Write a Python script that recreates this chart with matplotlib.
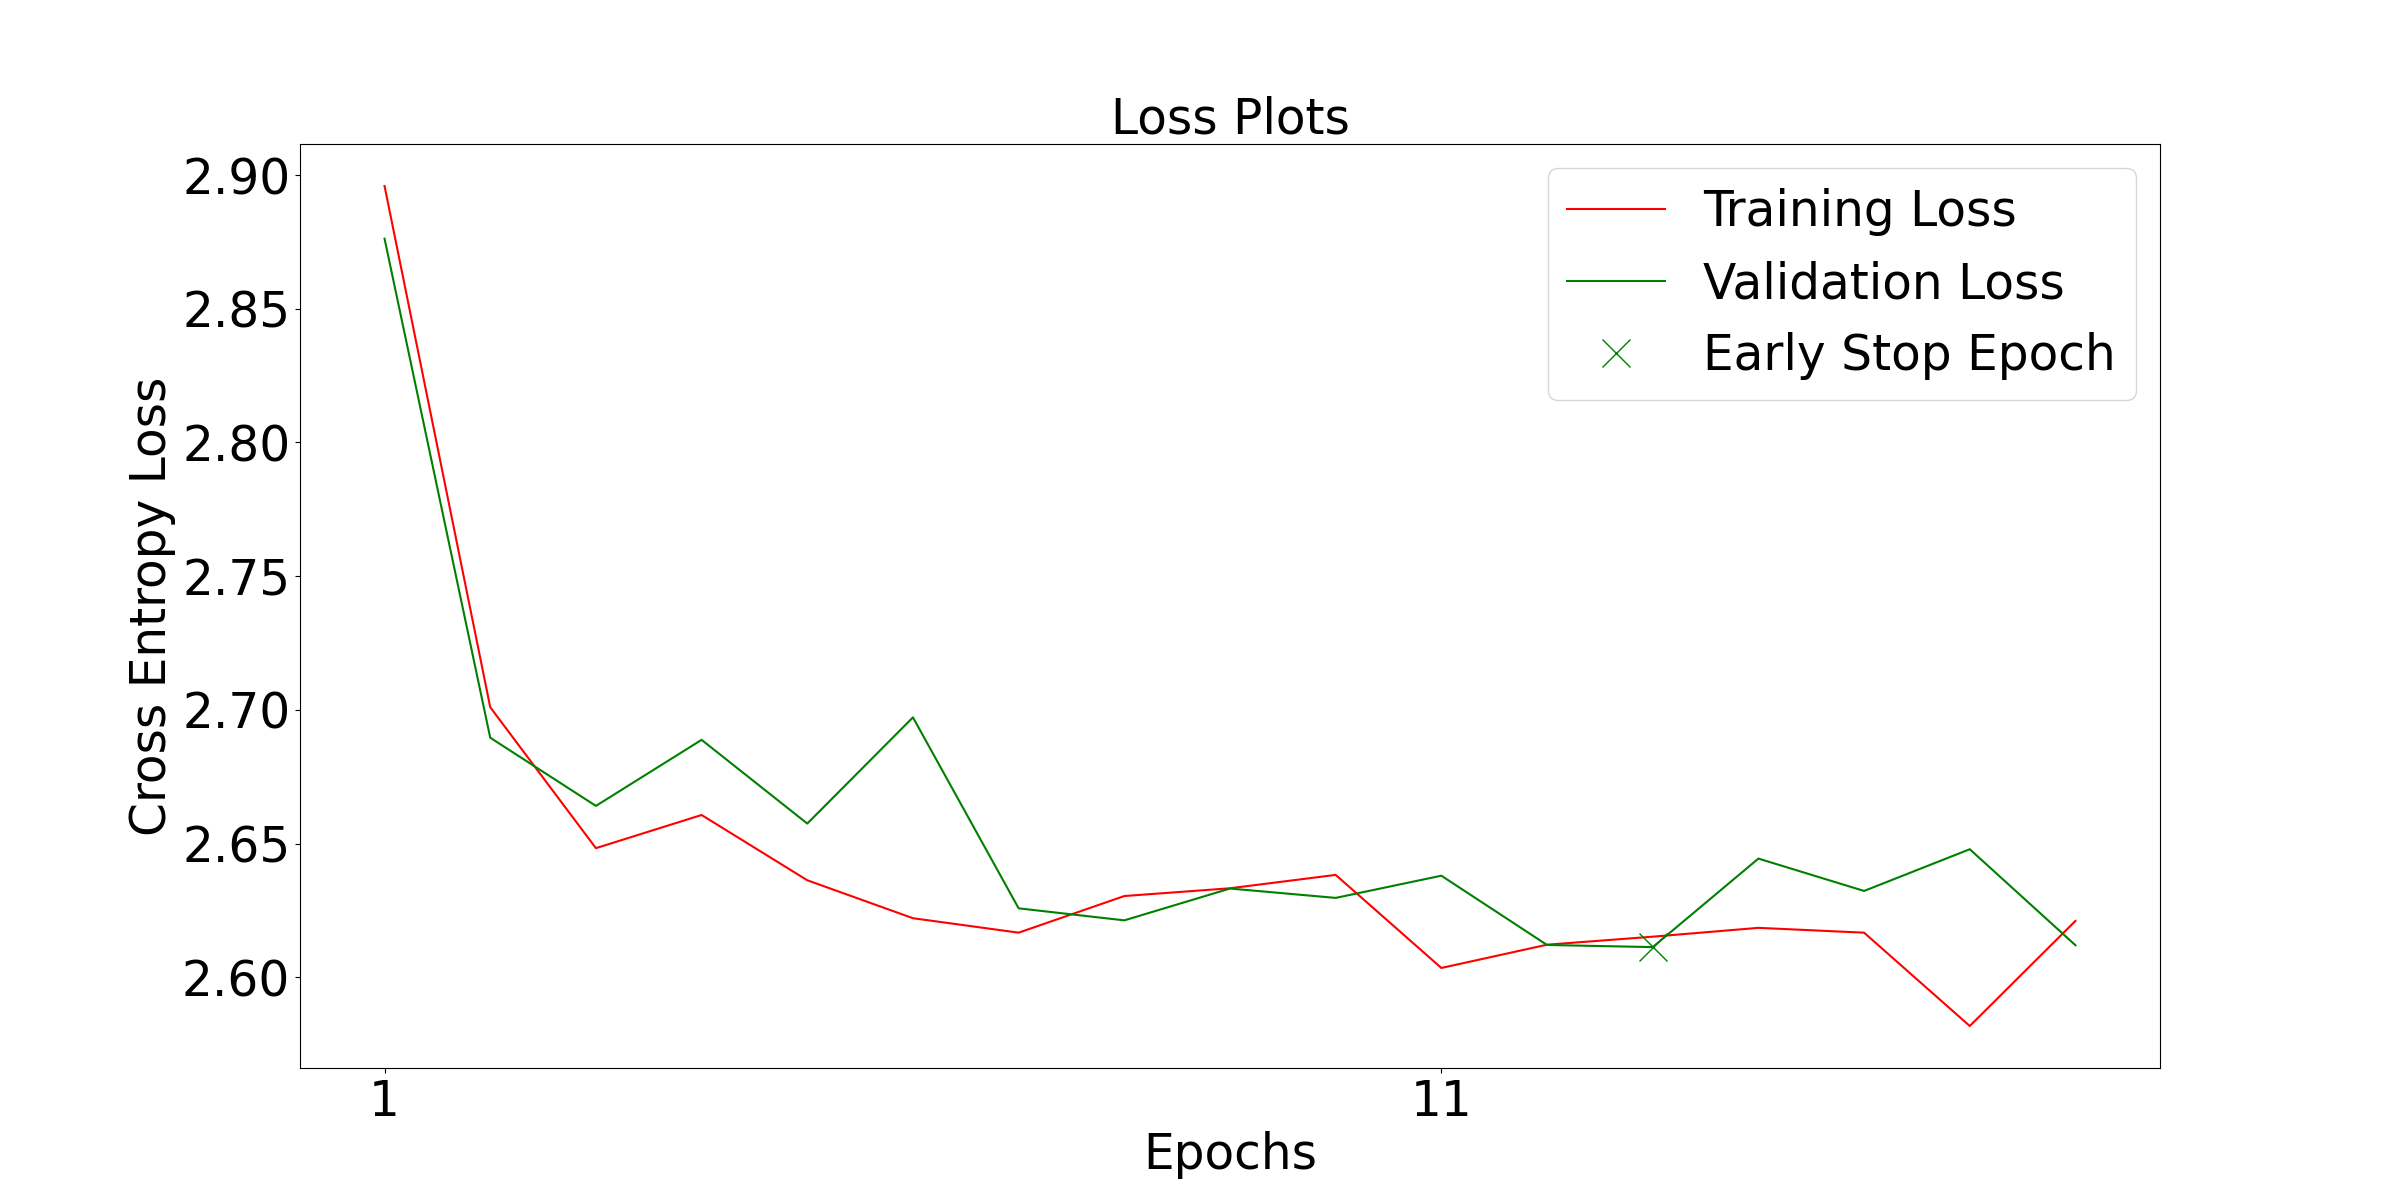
import numpy as np
import matplotlib
matplotlib.use("Agg")
import matplotlib.pyplot as plt

plt.rcParams['font.size'] = 35

epochs = list(range(1, 18))
train_loss = [2.8959, 2.7010, 2.6483, 2.6607, 2.6363, 2.6221, 2.6167, 2.6304, 2.6333,
              2.6383, 2.6035, 2.6122, 2.6152, 2.6185, 2.6167, 2.5818, 2.6211]
val_loss = [2.8762, 2.6896, 2.6641, 2.6888, 2.6575, 2.6972, 2.6258, 2.6213, 2.6332,
            2.6297, 2.6380, 2.6121, 2.6113, 2.6444, 2.6323, 2.6479, 2.6120]
early_stop = 13

plt.figure(figsize=(24, 12), dpi=100)
plt.plot(epochs, train_loss, color='red', label='Training Loss')
plt.plot(epochs, val_loss, color='green', label='Validation Loss')
plt.plot(early_stop, val_loss[early_stop - 1], 'x', color='green', markersize=20,
         label='Early Stop Epoch')
plt.xticks([1, 11])
plt.xlabel('Epochs')
plt.ylabel('Cross Entropy Loss')
plt.title('Loss Plots', fontsize=35)
plt.legend(loc='upper right')
plt.savefig('out.png')
